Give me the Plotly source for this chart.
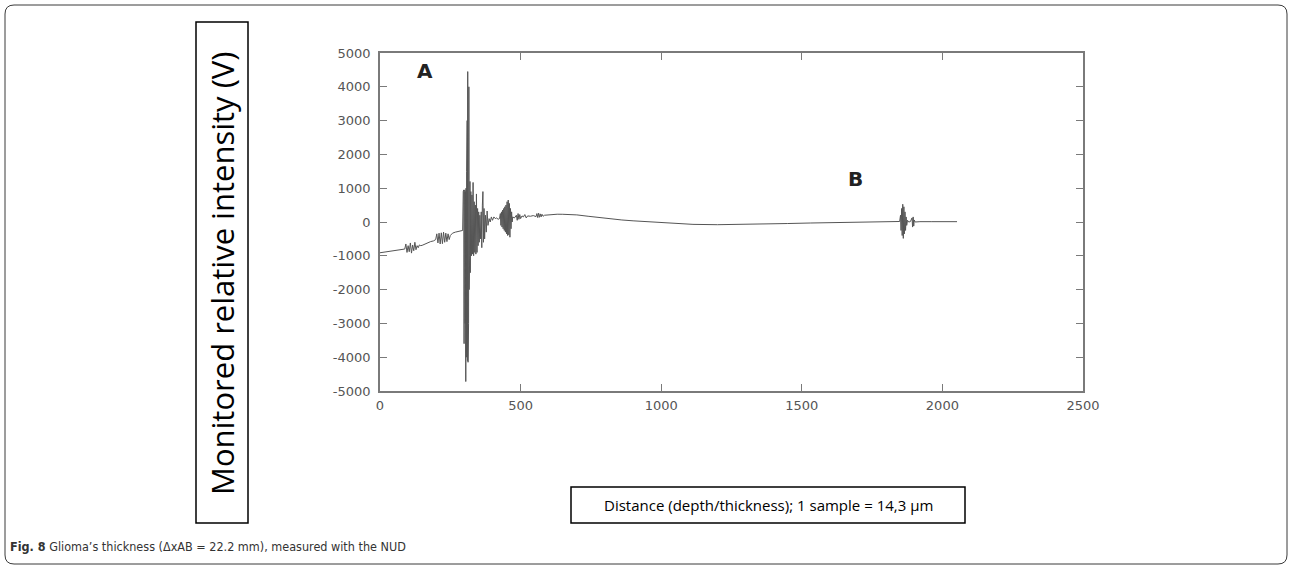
import plotly.graph_objects as go

# ---------------- data ----------------
distance = [
    0, 20, 40, 60, 80, 88,
    92, 96, 100, 104, 108, 112, 116, 120, 124, 128, 132, 136, 140, 145,
    150, 160, 170, 180, 190, 198,
    202, 206, 210, 214, 218, 222, 226, 230, 234, 238, 242, 246, 250,
    258, 268, 278, 288, 294,
    296, 297, 298, 299, 300, 301, 302, 303, 304, 305, 306, 307, 308, 309, 310,
    311, 312, 313, 314, 315, 316, 317, 318, 319, 320,
    321, 323, 325, 327, 329, 331, 333, 335, 337, 339, 341, 343, 345, 347, 349,
    351, 353, 355, 357, 360, 362, 364, 366, 368, 370, 372, 375, 378, 381, 384, 388, 392,
    396, 400, 405, 410, 415, 420, 425,
    428, 430, 432, 434, 436, 438, 440, 442, 444, 446, 448, 450, 452, 454, 456,
    458, 460, 462, 464, 466, 468, 470, 472,
    478, 485, 488, 491, 494, 497, 500, 505, 510, 515, 520, 525, 535, 545, 555,
    558, 561, 564, 567, 570, 573, 576, 580, 585, 595, 610, 630, 650, 670,
    700, 740, 780, 820, 860, 900, 960, 1000, 1050, 1113, 1200, 1280, 1376, 1450,
    1530, 1611, 1700, 1780, 1838, 1848,
    1851, 1853, 1855, 1857, 1859, 1861, 1863, 1865, 1867, 1869, 1871, 1873, 1876,
    1880, 1886, 1892, 1894, 1896, 1898, 1900, 1903, 1920, 1960, 2000, 2052,
]

intensity = [
    -910, -890, -870, -850, -820, -800,
    -650, -900, -700, -880, -620, -920, -680, -850, -600, -820, -700, -760, -680, -700,
    -690, -650, -620, -580, -560, -520,
    -350, -620, -330, -650, -320, -640, -300, -600, -330, -580, -350, -520, -400,
    -330, -300, -280, -270, -250,
    900, -900, 950, -3600, 900, -1000, 950, -3000, 900, -4720, 1000, -4000, 1500, -3800, 3000,
    -4100, 4450, -4150, 4300, -3000, 4000, -2000, 2500, -1000, 1200,
    -1500, 900, -1000, 800, -950, 1170, -1000, 600, -900, 500, -950, 830, -900, 400, -700,
    300, -600, 200, -500, 300, -760, 500, 900, -600, 400, -500, 200, -300, 325, -100, 100, 0,
    150, 50, 150, 100, 120, 80, 100,
    250, -100, 300, -150, 350, -200, 400, -250, 450, -300, 500, -350, 600, -400, 650,
    -380, 550, -450, 400, -200, 300, 0, 150,
    120, 200, 50, 250, 80, 220, 100, 180, 150, 220, 120, 180, 170, 190, 160,
    250, 130, 260, 140, 240, 150, 230, 170, 200, 210, 225, 230, 228, 225,
    210, 170, 130, 90, 60, 35, 10, -15, -45, -70, -80, -75, -65, -45,
    -30, -20, -5, 5, 10, 15,
    200, -250, 400, -400, 525, -485, 450, -350, 300, -250, 150, -100, 50,
    0, 10, 120, -150, 150, -120, 60, 0, 10, 10, 12, 10,
]
assert len(distance) == len(intensity)

x_ticks = [0, 500, 1000, 1500, 2000, 2500]
y_ticks = [-5000, -4000, -3000, -2000, -1000, 0, 1000, 2000, 3000, 4000, 5000]

y_title = "Monitored relative intensity (V)"
x_title = "Distance (depth/thickness); 1 sample = 14,3 µm"
caption_bold = "Fig. 8"
caption_rest = " Glioma’s thickness (ΔxAB = 22.2 mm), measured with the NUD"

# ---------------- layout helpers ----------------
W, H = 1292, 569
def px(x):
    return x / W
def py(y):
    return 1 - y / H

fig = go.Figure()
fig.add_trace(go.Scatter(
    x=distance, y=intensity, mode="lines",
    line=dict(color="#555555", width=1),
    hoverinfo="skip", showlegend=False,
))

axis_common = dict(
    showgrid=False, zeroline=False, automargin=False,
    showline=True, linecolor="#7a7a7a", linewidth=1.5,
    mirror="ticks", ticks="inside", ticklen=7, tickwidth=1, tickcolor="#7a7a7a",
    tickfont=dict(family="DejaVu Sans", size=13, color="#555555"),
)

fig.update_layout(
    width=W, height=H, autosize=False,
    margin=dict(l=0, r=0, t=0, b=0, pad=0, autoexpand=False),
    paper_bgcolor="white", plot_bgcolor="white",
    xaxis=dict(domain=[px(380), px(1083)], range=[0, 2500],
               tickvals=x_ticks, ticktext=[str(v) for v in x_ticks],
               ticklabelstandoff=2, **axis_common),
    yaxis=dict(domain=[py(391), py(53)], range=[-5000, 5000],
               tickvals=y_ticks, ticktext=[str(v) for v in y_ticks],
               ticklabelstandoff=5, **axis_common),
)

# outer rounded frame
L, R, T, B, r = 5, 1287, 5, 564, 9
path = (f"M {px(L + r)} {py(T)} L {px(R - r)} {py(T)} "
        f"Q {px(R)} {py(T)} {px(R)} {py(T + r)} "
        f"L {px(R)} {py(B - r)} Q {px(R)} {py(B)} {px(R - r)} {py(B)} "
        f"L {px(L + r)} {py(B)} Q {px(L)} {py(B)} {px(L)} {py(B - r)} "
        f"L {px(L)} {py(T + r)} Q {px(L)} {py(T)} {px(L + r)} {py(T)} Z")
fig.add_shape(type="path", path=path, xref="paper", yref="paper",
              line=dict(color="#3a3a3a", width=1))

# y-title box
fig.add_shape(type="rect", xref="paper", yref="paper",
              x0=px(196), x1=px(248), y0=py(523), y1=py(22),
              line=dict(color="black", width=1.5))
fig.add_annotation(xref="paper", yref="paper", x=px(222), y=py(274),
                   xanchor="center", yanchor="middle",
                   text=y_title, textangle=-90, showarrow=False,
                   font=dict(family="Open Sans", size=31, color="black"))

# x-title box
fig.add_shape(type="rect", xref="paper", yref="paper",
              x0=px(571), x1=px(965), y0=py(523), y1=py(487),
              line=dict(color="black", width=1.5))
fig.add_annotation(xref="paper", yref="paper", x=px(768), y=py(505),
                   xanchor="center", yanchor="middle",
                   text=x_title, showarrow=False,
                   font=dict(family="Open Sans", size=15, color="black"))

# caption
fig.add_annotation(xref="paper", yref="paper", x=px(8), y=py(546),
                   xanchor="left", yanchor="middle", showarrow=False,
                   text=f"<b>{caption_bold}</b>{caption_rest}",
                   font=dict(family="DejaVu Sans Condensed, Liberation Sans Narrow, Liberation Sans",
                             size=12.5, color="#333333"))

# hand-written markers A and B
fig.add_annotation(x=160, y=4480, xref="x", yref="y", text="A", showarrow=False,
                   xanchor="center", yanchor="middle",
                   font=dict(family="DejaVu Sans", size=20, color="#222222", weight="bold"))
fig.add_annotation(x=1690, y=1280, xref="x", yref="y", text="B", showarrow=False,
                   xanchor="center", yanchor="middle",
                   font=dict(family="DejaVu Sans", size=20, color="#222222", weight="bold"))

fig.write_html("out.html", config={"displayModeBar": False},
               post_script="document.body.style.margin='0';document.body.style.overflow='hidden';")
